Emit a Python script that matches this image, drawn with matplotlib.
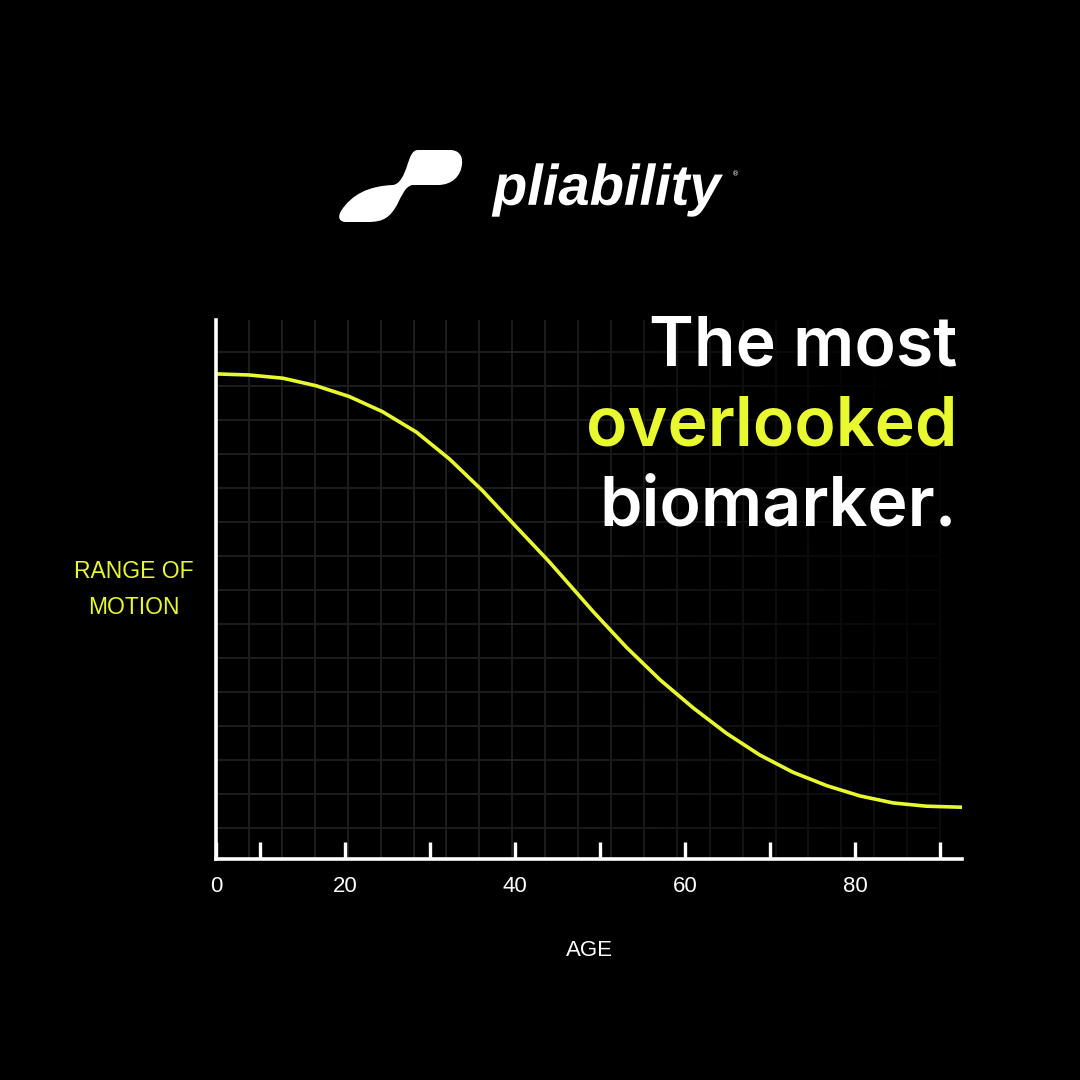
import numpy as np
import matplotlib.pyplot as plt
from matplotlib.path import Path
from matplotlib.patches import PathPatch
from matplotlib.textpath import TextPath
from matplotlib.font_manager import FontProperties
from matplotlib.transforms import Affine2D

# curve: age vs range of motion (0-100 scale)
age = [4.8, 8.7, 12.7, 16.6, 20.5, 24.4, 28.4, 32.3, 36.2, 40.1, 44.0, 46.8,
       49.2, 53.1, 57.1, 61.0, 64.9, 68.8, 72.7, 76.7, 80.6, 84.5, 88.4, 92.6]
rom = [90.0, 89.8, 89.2, 87.8, 85.8, 83.0, 79.2, 74.2, 68.3, 61.7, 55.2, 50.2,
       45.9, 39.3, 33.2, 28.0, 23.3, 19.3, 16.1, 13.6, 11.7, 10.4, 9.8, 9.6]

tick_pos = [10, 20, 30, 40, 50, 60, 70, 80, 90]
tick_labels = ['', '20', '', '40', '', '60', '', '80', '']

title_lines = ['The most', 'overlooked', 'biomarker.']
y_label = ['RANGE OF', 'MOTION']
x_label = 'AGE'

YELLOW = '#E9F92F'
BG = '#000000'
GRID = '#1d1d1d'

fig = plt.figure(figsize=(10.8, 10.8), dpi=100, facecolor=BG)
ax = fig.add_axes([216 / 1080, 221 / 1080, 746 / 1080, 539 / 1080])
ax.set_facecolor(BG)

xmin, xmax = 4.82, 92.6

# background grid (square cells ~33px)
px_to_age = lambda px: (px - 175) / 8.5
py_to_val = lambda py: (859 - py) / 5.39
vx = [px_to_age(216 + 32.92 * k) for k in range(1, 23)]
hy = [py_to_val(351.7 + 34 * k) for k in range(15)]
ax.vlines(vx, 0, 100, color=GRID, lw=1.4, zorder=0.5)
ax.hlines(hy, xmin, px_to_age(938), color=GRID, lw=1.4, zorder=0.5)

# fade the grid toward the upper right
u, v = np.meshgrid(np.linspace(0, 1, 300), np.linspace(1, 0, 300))
fade = np.clip(1.2 * (u - 0.45) / 0.55, 0, 1) * (0.55 + 0.45 * v)
rgba = np.zeros((300, 300, 4))
rgba[..., 3] = np.clip(fade, 0, 1)
ax.imshow(rgba, extent=[0, 1, 0, 1], transform=ax.transAxes, aspect='auto',
          zorder=1, interpolation='bilinear')
ax.set_xlim(xmin, xmax)
ax.set_ylim(0, 100)

ax.plot(age, rom, color=YELLOW, lw=2.6, zorder=3, solid_joinstyle='round',
        solid_capstyle='butt', clip_on=False)

for side in ['top', 'right']:
    ax.spines[side].set_visible(False)
for side in ['left', 'bottom']:
    ax.spines[side].set_color('white')
    ax.spines[side].set_linewidth(2.6)
    ax.spines[side].set_zorder(4)

ax.set_xticks([xmin] + tick_pos)
ax.set_xticklabels(['0'] + tick_labels)
ax.tick_params(axis='x', direction='in', length=12.5, width=2.4, color='white',
               labelcolor='white', labelsize=16, pad=12)
for lab in ax.get_xticklabels():
    lab.set_family('Liberation Sans')
ax.set_yticks([])

# overlay in pixel coordinates for logo and texts
ov = fig.add_axes([0, 0, 1, 1])
ov.set_xlim(0, 1080)
ov.set_ylim(1080, 0)
ov.axis('off')
ov.patch.set_alpha(0)

ov.text(589, 951, x_label, color='white', fontsize=16, family='Liberation Sans',
        ha='center', va='center')
ov.text(133.5, 577.7, y_label[0], color=YELLOW, fontsize=16.5,
        family='Liberation Sans', ha='center', va='baseline')
ov.text(133.5, 614, y_label[1], color=YELLOW, fontsize=16.5,
        family='Liberation Sans', ha='center', va='baseline')

title_colors = ['white', YELLOW, 'white']
title_base = [365, 445, 525]
for line, col, yb in zip(title_lines, title_colors, title_base):
    ov.text(957, yb, line, color=col, fontsize=49, family='Inter',
            weight='semibold', ha='right', va='baseline')

# logo mark
verts = [(418, 150), (450, 150),
         (458, 150), (463, 155), (462, 164),
         (461, 176), (452, 185), (438, 185),
         (412, 185),
         (405, 187), (402, 195), (397, 205),
         (390, 217), (384, 222), (368, 222),
         (346, 222),
         (340, 222), (337, 218), (341, 211),
         (352, 194), (369, 186), (393, 185),
         (400, 184), (404, 175), (407, 166),
         (410, 157), (412, 150), (418, 150)]
codes = [Path.MOVETO, Path.LINETO,
         Path.CURVE4, Path.CURVE4, Path.CURVE4,
         Path.CURVE4, Path.CURVE4, Path.CURVE4,
         Path.LINETO,
         Path.CURVE4, Path.CURVE4, Path.CURVE4,
         Path.CURVE4, Path.CURVE4, Path.CURVE4,
         Path.LINETO,
         Path.CURVE4, Path.CURVE4, Path.CURVE4,
         Path.CURVE4, Path.CURVE4, Path.CURVE4,
         Path.CURVE4, Path.CURVE4, Path.CURVE4,
         Path.CURVE4, Path.CURVE4, Path.CURVE4]
ov.add_patch(PathPatch(Path(verts, codes), facecolor='white', edgecolor='none'))

# logo word
fp = FontProperties(family='Liberation Sans', weight='bold', style='italic')
tp = TextPath((0, 0), 'pliability', size=100, prop=fp)
ext = tp.get_extents()
sx = (723 - 491.7) / ext.width
sy = (216.7 - 163.3) / ext.height
tr = Affine2D().translate(-ext.x0, -ext.y0).scale(sx, -sy).translate(491.7, 216.7)
ov.add_patch(PathPatch(tr.transform_path(tp), facecolor='white', edgecolor='none'))
ov.text(736, 174, '®', color='white', fontsize=5, ha='center', va='center')

fig.savefig('out.png', dpi=100, facecolor=BG)
